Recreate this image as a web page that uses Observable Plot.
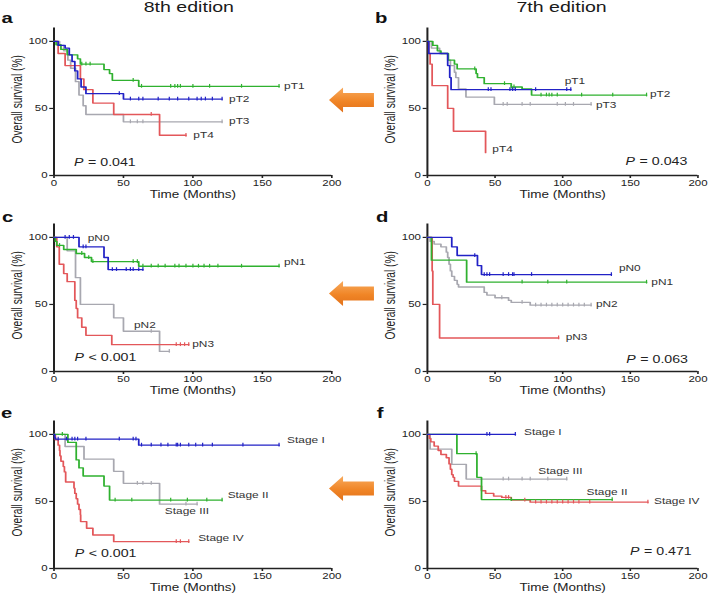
<!DOCTYPE html>
<html><head><meta charset="utf-8">
<script src="https://cdn.jsdelivr.net/npm/d3@7"></script>
<script src="https://cdn.jsdelivr.net/npm/@observablehq/plot@0.6"></script>
<style>
html,body{margin:0;padding:0;background:#fff;}
#stage{position:relative;width:524.4px;height:595px;transform:scaleX(1.35);transform-origin:0 0;font-family:"Liberation Sans",Arial,Helvetica,sans-serif;color:#222;}
.panel{position:absolute;}
.panel svg{max-width:none;overflow:visible;display:block;}
</style></head><body><div id="stage"></div><script>
// ---------- tick labels ----------
const monthTicks = [0, 50, 100, 150, 200];
const survTicks = [0, 50, 100];
const colTitles = ["8th edition", "7th edition"];
const panelLetters = ["a", "b", "c", "d", "e", "f"];

// ---------- panel a : 8th edition, pT ----------
const a_green = [[0,100],[1.5,97.5],[5,94],[9.5,90],[17,87],[19,83],[36,79],[40,76],[42,71],[61,66.5],[162,66.5]];
const a_green_cens = [20,23,26,57,63,84,87,89,91,100,112,135,162];
const a_blue = [[0,100],[3,97],[8,95],[11,90],[13,85],[15,78],[17,72],[19.5,66],[23,61],[50,57],[121,57]];
const a_blue_cens = [47,55,61,64,75,83,89,97,103,106,109,114,121];
const a_gray = [[0,100],[4,97],[7,93],[10,86],[12,80],[15.5,70],[18,60],[21,52],[23,45.5],[50,40],[121,40]];
const a_gray_cens = [55,60,64,121];
const a_red = [[0,100],[3,91],[8,82],[19,72],[21.5,64],[28,54],[43,45.5],[76,30],[95,30]];
const a_red_cens = [70,95];
const a_labels = ["pT1","pT2","pT3","pT4"];
const a_labelX = [165.6,126,126,100.3];
const a_labelY = [66.5,57,40.4,29.8];
const a_p = ["= 0.041"]; const a_pX = [14.4]; const a_pY = [9.9];

// ---------- panel b : 7th edition, pT ----------
const b_green = [[0,100],[4,97],[7.4,93],[10,91],[15.5,86],[20,83],[22,79.5],[36,76],[37,73],[42,68.5],[62,66],[70,64.5],[77,60],[162,60]];
const b_green_cens = [35,57,62,64,84,88,90,92,96,114,137,162];
const b_blue = [[0,100],[1,91],[15,82],[16.5,73],[17.5,64],[106,64]];
const b_blue_cens = [45,47,61,63,65,80,103,106];
const b_gray = [[0,100],[3,95],[9,91],[15,86],[17,82],[20,77],[21,73],[23,64.5],[28.5,58.5],[49.5,53],[121,53]];
const b_gray_cens = [56,59,70,76,96,102,108,121];
const b_red = [[0,100],[1,91],[2,83],[3.5,67],[15,50],[19.3,33],[43,17]];
const b_red_cens = [];
const b_labels = ["pT1","pT2","pT3","pT4"];
const b_labelX = [101.5,164.5,124.6,48];
const b_labelY = [70,60.6,52.4,20];
const b_p = ["= 0.043"]; const b_pX = [146.5]; const b_pY = [10.7];

// ---------- panel c : 8th edition, pN ----------
const c_blue = [[0,100],[18,93],[36,85],[39,76],[64,76]];
const c_blue_cens = [8,11,14,21,23,42,45,52,55,57,61,64];
const c_green = [[0,100],[1,97],[2,94],[7,91],[16,88],[22,85],[27,82],[61,78.5],[162,78.5]];
const c_green_cens = [4,20,25,28,57,60,64,70,75,80,87,90,95,100,104,108,112,118,135,162];
const c_gray = [[0,100],[9.5,90],[15.5,70],[19,50],[43,40],[50,30],[76,15],[83,15]];
const c_gray_cens = [70,83];
const c_red = [[0,100],[2,93],[3.8,80],[7,73],[9.5,67],[15,53],[16,47],[17,40],[20,33],[23,27],[41.6,20],[97,20]];
const c_red_cens = [88,91,94,97];
const c_labels = ["pN0","pN1","pN2","pN3"];
const c_labelX = [24.3,165.5,57.6,99.5];
const c_labelY = [99.3,81.8,34.4,20.7];
const c_p = ["< 0.001"]; const c_pX = [14.8]; const c_pY = [10];

// ---------- panel d : 7th edition, pN ----------
const d_blue = [[0,100],[18,93],[22,86.5],[37,79],[40,72.3],[136,72.3]];
const d_blue_cens = [35,42,44,46,56,60,63,64,77,136];
const d_green = [[0,100],[3,83],[29,66.6],[162,66.6]];
const d_green_cens = [70,89,103,162];
const d_gray = [[0,100],[2,97],[5,95],[10,93],[14,89],[15,85],[16,80],[17,75],[18,71],[20,68],[22,65],[23,63],[42,59],[44,57],[50,55],[60,53],[62,51.5],[76,49.5],[121,49.5]];
const d_gray_cens = [55,70,80,84,88,92,96,100,104,108,112,116,121];
const d_red = [[0,100],[3.5,75],[4,50],[9,25],[97,25]];
const d_red_cens = [97];
const d_labels = ["pN0","pN1","pN2","pN3"];
const d_labelX = [141.6,165.5,124.6,102.2];
const d_labelY = [77.3,66.3,49.9,25.7];
const d_p = ["= 0.063"]; const d_pX = [147]; const d_pY = [9];

// ---------- panel e : 8th edition, stage ----------
const e_blue = [[0,100],[0.5,97.5],[1,96.5],[61,92],[162,92]];
const e_blue_cens = [3,9,13,15,17,23,47,57,59,63,70,77,82,88,89,91,97,102,107,114,136,162];
const e_green = [[0,100],[10,94],[16,81],[18,75],[21,69],[36,61.5],[40,51],[121,51]];
const e_green_cens = [6,44,56,84,96,110,121];
const e_gray = [[0,100],[8,91],[21.6,81.5],[43,72.5],[50,63.5],[76,48],[103,48]];
const e_gray_cens = [60,64,70,95,103];
const e_red = [[0,100],[1,96],[3,92],[4,88],[4.3,84],[5,80],[6.7,76],[7.5,72],[8.4,64.5],[14.4,60],[15,56],[16,52],[17,48],[18,44],[19,40],[19.2,35],[23.5,30],[28,25],[43,20],[97,20]];
const e_red_cens = [88,91,97];
const e_labels = ["Stage I","Stage II","Stage III","Stage IV"];
const e_labelX = [167.8,125,79.8,103.8];
const e_labelY = [95.8,54.8,42.4,22.6];
const e_p = ["< 0.001"]; const e_pX = [14.9]; const e_pY = [11.2];

// ---------- panel f : 7th edition, stage ----------
const f_blue = [[0,100],[65,100]];
const f_blue_cens = [44,46,65];
const f_green = [[0,100],[21.8,85.6],[36.6,68],[40,51.4],[136.6,51.4]];
const f_green_cens = [36,62,136.6];
const f_gray = [[0,100],[2,89],[18,77.7],[28.7,66.7],[103,66.7]];
const f_gray_cens = [56,60,70,76,89,103];
const f_red = [[0,100],[1.5,97],[2.5,94.5],[5,91.3],[8,88],[10,85],[14,82.6],[16,78],[17,74],[18,70],[19,68],[20,65],[23,61.5],[40,58],[43,56],[49,54],[55,53],[62,51],[76,49.5],[163,49.5]];
const f_red_cens = [58,60,72,80,84,88,92,96,100,104,108,112,120,163];
const f_labels = ["Stage I","Stage III","Stage II","Stage IV"];
const f_labelX = [71.4,82,117.7,167.5];
const f_labelY = [101.7,72.5,57.1,50.1];
const f_p = ["= 0.471"]; const f_pX = [149.8]; const f_pY = [12.7];

// ---------- styling ----------
const COLORS = {green: "#2fb12f", blue: "#2222c6", gray: "#a8a8b0", red: "#e3575a"};
const AXIS = "#222";
const FONT = '"Liberation Sans", Arial, Helvetica, sans-serif';
const ROW_TOP = [0, 196, 393];
const COL = [
  {left: 0, marginLeft: 39.5, marginRight: 16.7},
  {left: 262, marginLeft: 54.1, marginRight: 7.5}
];

const survAt = (steps, t) => { let s = steps[0][1]; for (const [tt, ss] of steps) if (tt <= t) s = ss; return s; };

function makePanel(spec, col) {
  const marks = [
    Plot.ruleX([0], {y1: 0, y2: 110, stroke: AXIS, strokeWidth: 1.5}),
    Plot.ruleY([0], {x1: 0, x2: 200, stroke: AXIS, strokeWidth: 1.5}),
    Plot.axisX(monthTicks, {tickSize: 3, tickPadding: 1.5, label: null, stroke: AXIS, strokeWidth: 1.2}),
    Plot.axisY(survTicks, {tickSize: 3, tickPadding: 1.8, label: null, stroke: AXIS, strokeWidth: 1.2}),
  ];
  for (const s of spec.series) {
    marks.push(Plot.line(s.steps, {x: d => d[0], y: d => d[1], curve: "step-after", stroke: COLORS[s.color], strokeWidth: 1.3}));
  }
  for (const s of spec.series) {
    const cd = s.cens.map(t => ({t, s: survAt(s.steps, t)}));
    marks.push(Plot.ruleX(cd, {x: "t", y1: d => d.s - 1.4, y2: d => d.s + 1.4, stroke: COLORS[s.color], strokeWidth: 0.9}));
  }
  const lab = spec.labels.map((t, i) => ({t, x: spec.lx[i], y: spec.ly[i]}));
  marks.push(Plot.text(lab, {x: "x", y: "y", text: "t", textAnchor: "start", fontSize: 8.8, fill: "#333"}));
  const pd = spec.p.map((t, i) => ({t, x: spec.px[i], y: spec.py[i]}));
  marks.push(Plot.text(pd, {x: "x", y: "y", text: () => "P", textAnchor: "start", fontSize: 10.5, fontStyle: "italic", fill: "#222"}));
  marks.push(Plot.text(pd, {x: "x", y: "y", text: "t", textAnchor: "start", dx: 10.4, fontSize: 10.5, fill: "#222"}));
  marks.push(Plot.text(["Time (Months)"], {frameAnchor: "bottom", textAnchor: "middle", lineAnchor: "middle", dy: 19.5, fontSize: 10, fill: "#222"}));
  marks.push(Plot.text(["Overall survival (%)"], {frameAnchor: "left", textAnchor: "middle", lineAnchor: "middle", rotate: -90, dx: -27, dy: -2.5, fontSize: 10.2, fill: "#222"}));
  return Plot.plot({
    width: 262, height: 200,
    marginLeft: col.marginLeft, marginRight: col.marginRight, marginTop: 27.5, marginBottom: 25,
    style: {background: "transparent", overflow: "visible", fontFamily: FONT, fontSize: "8.5px", color: AXIS},
    x: {domain: [0, 200]},
    y: {domain: [0, 110]},
    marks
  });
}

const specs = [
  {series: [{steps: a_gray, cens: a_gray_cens, color: "gray"}, {steps: a_red, cens: a_red_cens, color: "red"}, {steps: a_green, cens: a_green_cens, color: "green"}, {steps: a_blue, cens: a_blue_cens, color: "blue"}],
   labels: a_labels, lx: a_labelX, ly: a_labelY, p: a_p, px: a_pX, py: a_pY},
  {series: [{steps: b_gray, cens: b_gray_cens, color: "gray"}, {steps: b_red, cens: b_red_cens, color: "red"}, {steps: b_green, cens: b_green_cens, color: "green"}, {steps: b_blue, cens: b_blue_cens, color: "blue"}],
   labels: b_labels, lx: b_labelX, ly: b_labelY, p: b_p, px: b_pX, py: b_pY},
  {series: [{steps: c_gray, cens: c_gray_cens, color: "gray"}, {steps: c_red, cens: c_red_cens, color: "red"}, {steps: c_green, cens: c_green_cens, color: "green"}, {steps: c_blue, cens: c_blue_cens, color: "blue"}],
   labels: c_labels, lx: c_labelX, ly: c_labelY, p: c_p, px: c_pX, py: c_pY},
  {series: [{steps: d_gray, cens: d_gray_cens, color: "gray"}, {steps: d_red, cens: d_red_cens, color: "red"}, {steps: d_green, cens: d_green_cens, color: "green"}, {steps: d_blue, cens: d_blue_cens, color: "blue"}],
   labels: d_labels, lx: d_labelX, ly: d_labelY, p: d_p, px: d_pX, py: d_pY},
  {series: [{steps: e_gray, cens: e_gray_cens, color: "gray"}, {steps: e_red, cens: e_red_cens, color: "red"}, {steps: e_green, cens: e_green_cens, color: "green"}, {steps: e_blue, cens: e_blue_cens, color: "blue"}],
   labels: e_labels, lx: e_labelX, ly: e_labelY, p: e_p, px: e_pX, py: e_pY},
  {series: [{steps: f_gray, cens: f_gray_cens, color: "gray"}, {steps: f_red, cens: f_red_cens, color: "red"}, {steps: f_green, cens: f_green_cens, color: "green"}, {steps: f_blue, cens: f_blue_cens, color: "blue"}],
   labels: f_labels, lx: f_labelX, ly: f_labelY, p: f_p, px: f_pX, py: f_pY}
];

const stage = document.getElementById("stage");
specs.forEach((spec, i) => {
  const row = Math.floor(i / 2), c = i % 2;
  const div = document.createElement("div");
  div.className = "panel";
  div.style.left = COL[c].left + "px";
  div.style.top = ROW_TOP[row] + "px";
  div.appendChild(makePanel(spec, COL[c]));
  stage.appendChild(div);
});

// ---------- overlay: titles, panel letters, arrows ----------
const ov = d3.create("svg").attr("width", 524.4).attr("height", 595)
  .style("position", "absolute").style("left", 0).style("top", 0).style("overflow", "visible")
  .style("pointer-events", "none").style("font-family", FONT);
const defs = ov.append("defs");
const g = defs.append("linearGradient").attr("id", "arrowGrad").attr("x1", 0).attr("y1", 0).attr("x2", 0).attr("y2", 1);
g.append("stop").attr("offset", "0%").attr("stop-color", "#f8ab5e");
g.append("stop").attr("offset", "55%").attr("stop-color", "#f08526");
g.append("stop").attr("offset", "100%").attr("stop-color", "#e2711a");

const titleX = [139.9, 416];
colTitles.forEach((t, i) => ov.append("text").attr("x", titleX[i]).attr("y", 12).attr("text-anchor", "middle")
  .attr("font-size", 14.5).attr("fill", "#1a1a1a").text(t));
const letterX = [1.2, 277.8, 1.5, 278.5, 0.7, 279];
const letterY = [23, 23, 222, 222, 418, 418];
panelLetters.forEach((t, i) => ov.append("text").attr("x", letterX[i]).attr("y", letterY[i])
  .attr("font-size", 15).attr("font-weight", "bold").attr("fill", "#111").text(t));

const arrowY = [100, 293.5, 488.5];
arrowY.forEach(cy => {
  const tip = 243.7, base = 254.1, end = 277, hh = 12.5, bh = 7;
  ov.append("path")
    .attr("d", `M${tip},${cy} L${base},${cy - hh} L${base},${cy - bh} L${end},${cy - bh} L${end},${cy + bh} L${base},${cy + bh} L${base},${cy + hh} Z`)
    .attr("fill", "url(#arrowGrad)").attr("stroke", "none");
});
stage.appendChild(ov.node());
</script></body></html>
